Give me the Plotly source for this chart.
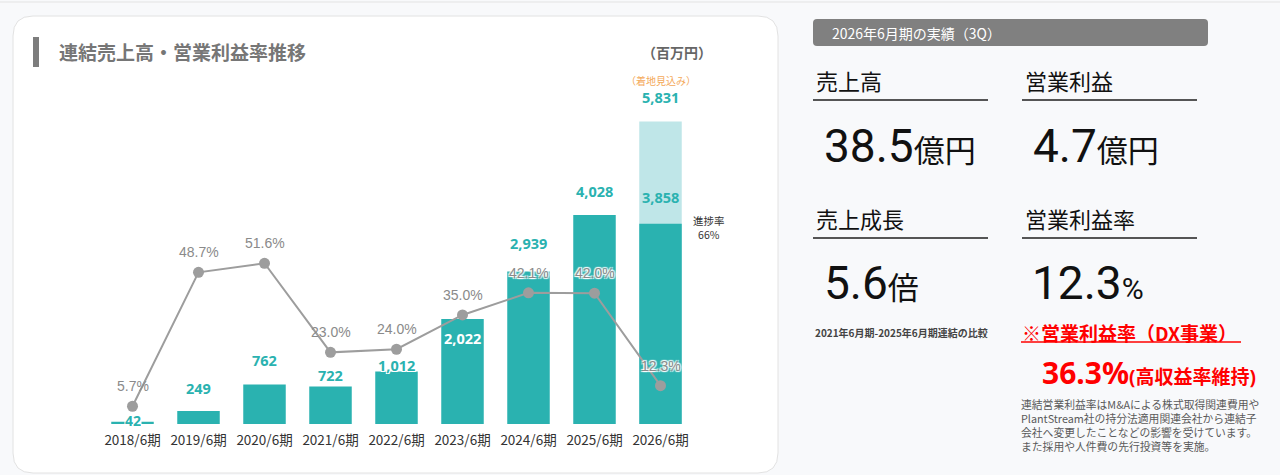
import plotly.graph_objects as go

W, H = 1280, 475

# ---------------- data ----------------
periods = ["2018/6期", "2019/6期", "2020/6期", "2021/6期", "2022/6期",
           "2023/6期", "2024/6期", "2025/6期", "2026/6期"]
sales = [42, 249, 762, 722, 1012, 2022, 2939, 4028, 3858]          # 百万円 (actual)
forecast_period = "2026/6期"
forecast_sales = 5831                                                # 着地見込み
op_margin = [5.7, 48.7, 51.6, 23.0, 24.0, 35.0, 42.1, 42.0, 12.3]    # %
progress_rate = 66

# ---------------- styles ----------------
TEAL = "#2ab2b0"
LIGHT = "#bfe6e8"
GRAY_LINE = "#9d9d9d"
JP = "Noto Sans CJK JP"

# label offsets (px, relative to bar top / point) - style only
sales_label_shift = [2, 23, 24, 12, 6, -19, 29, 24, 27]
sales_label_color = [TEAL] * 5 + ["white"] + [TEAL] * 3
pct_halo = [False] * 6 + [True, True, True]


def px(x):
    return x / W


def py(y):
    return 1 - y / H


def rrect(x0, y0, x1, y1, r):
    X0, X1 = px(x0), px(x1)
    Y0, Y1 = py(y0), py(y1)
    rx, ry = r / W, r / H
    return (f"M{X0+rx},{Y0} L{X1-rx},{Y0} Q{X1},{Y0} {X1},{Y0-ry} "
            f"L{X1},{Y1+ry} Q{X1},{Y1} {X1-rx},{Y1} L{X0+rx},{Y1} "
            f"Q{X0},{Y1} {X0},{Y1+ry} L{X0},{Y0-ry} Q{X0},{Y0} {X0+rx},{Y0} Z")


fig = go.Figure()

# forecast (light) bar behind
fig.add_trace(go.Bar(
    x=[forecast_period], y=[forecast_sales], marker=dict(color=LIGHT, line=dict(width=0)),
    hoverinfo="skip", showlegend=False))
# actual bars
fig.add_trace(go.Bar(
    x=periods, y=sales, marker=dict(color=TEAL, line=dict(width=0)),
    showlegend=False))
# operating margin line
fig.add_trace(go.Scatter(
    x=periods, y=op_margin, yaxis="y2", mode="lines+markers",
    line=dict(color=GRAY_LINE, width=2),
    marker=dict(color=GRAY_LINE, size=11), showlegend=False))

ann = []
# sales labels
for p, v, s, c in zip(periods, sales, sales_label_shift, sales_label_color):
    a = dict(x=p, y=v, xref="x", yref="y", text=f"{v:,}", showarrow=False,
             yshift=s, yanchor="middle",
             font=dict(family="Noto Sans", size=14.5, color=c, weight="bold"))
    if v < 100:
        a.update(bgcolor="white", borderpad=0, height=12)
        a["font"]["size"] = 14
    if p == "2022/6期":
        a["font"]["shadow"] = "1px 1px 0 white, -1px -1px 0 white, 1px -1px 0 white, -1px 1px 0 white"
    ann.append(a)
ann.append(dict(x=forecast_period, y=forecast_sales, xref="x", yref="y",
                text=f"{forecast_sales:,}", showarrow=False, yshift=24, yanchor="middle",
                font=dict(family="Noto Sans", size=14.5, color=TEAL, weight="bold")))
ann.append(dict(x=forecast_period, y=forecast_sales, xref="x", yref="y",
                text="（着地見込み）", showarrow=False, yshift=41, yanchor="middle",
                font=dict(family=JP, size=10, color="#f4a95a")))
# margin labels
for p, v, h in zip(periods, op_margin, pct_halo):
    f = dict(family="Liberation Sans", size=14, color="#8a8a8a")
    if h:
        f["shadow"] = "1px 1px 1px white, -1px -1px 1px white, 1px -1px 1px white, -1px 1px 1px white"
    ann.append(dict(x=p, y=v, xref="x", yref="y2", text=f"{v:.1f}%", showarrow=False,
                    yshift=20, yanchor="middle", font=f))
# progress rate
ann.append(dict(x=px(709), y=py(227), xref="paper", yref="paper",
                text=f"進捗率<br>{progress_rate}%", showarrow=False, align="center",
                xanchor="center", yanchor="middle",
                font=dict(family=JP, size=10.5, color="#333333")))

# titles in card
ann.append(dict(x=px(57), y=py(52), xref="paper", yref="paper", text="連結売上高・営業利益率推移",
                showarrow=False, xanchor="left", yanchor="middle",
                font=dict(family=JP, size=19, color="#767676", weight="bold")))
ann.append(dict(x=px(677), y=py(52), xref="paper", yref="paper", text="（百万円）",
                showarrow=False, xanchor="center", yanchor="middle",
                font=dict(family=JP, size=14, color="#666666", weight="bold")))

# ---------------- right panel ----------------
def T(x, y, text, size, color="#111111", weight="normal", anchor="left", family=JP, align="left"):
    ann.append(dict(x=px(x), y=py(y), xref="paper", yref="paper", text=text, showarrow=False,
                    xanchor=anchor, yanchor="middle", align=align,
                    font=dict(family=family, size=size, color=color, weight=weight)))

T(830, 33, "2026年6月期の実績（3Q）", 14, color="white")
T(814, 80, "売上高", 22)
T(1023, 80, "営業利益", 22)
T(814, 218, "売上成長", 22)
T(1023, 218, "営業利益率", 22)

NUM = "Roboto, " + JP
T(822, 146, "<span style='font-size:46px'>38.5</span><span style='font-size:31px'>億円</span>", 46, family=NUM)
T(1031, 146, "<span style='font-size:46px'>4.7</span><span style='font-size:31px'>億円</span>", 46, family=NUM)
T(822, 283, "<span style='font-size:46px'>5.6</span><span style='font-size:31px'>倍</span>", 46, family=NUM)
T(1030, 283, "<span style='font-size:46px'>12.3</span><span style='font-size:30px'>%</span>", 46, family=NUM)

T(813, 332, "2021年6月期-2025年6月期連結の比較", 10, color="#444444", weight="bold")
T(1020, 332, "※営業利益率（DX事業）", 19, color="#ff0000", weight="bold")
T(1040, 372, "<span style='font-size:30px'>36.3%</span><span style='font-size:19px'>(高収益率維持)</span>",
  30, color="#ff0000", weight="bold", family="Noto Sans, " + JP)

notes = ["連結営業利益率はM&Aによる株式取得関連費用や",
         "PlantStream社の持分法適用関連会社から連結子",
         "会社へ変更したことなどの影響を受けています。",
         "また採用や人件費の先行投資等を実施。"]
T(1019, 425, "<br>".join(l.replace("&", "&amp;") for l in notes), 10.8, color="#5a5a5a")

# ---------------- shapes ----------------
shapes = [
    # top thin line
    dict(type="line", xref="paper", yref="paper", x0=0, x1=1, y0=py(2), y1=py(2),
         line=dict(color="#e3e3e3", width=1), layer="below"),
    # card
    dict(type="path", xref="paper", yref="paper", path=rrect(13, 16, 778, 473, 20),
         fillcolor="white", line=dict(color="#e2e2e2", width=1), layer="below"),
    # title marker
    dict(type="rect", xref="paper", yref="paper", x0=px(33), x1=px(39), y0=py(37), y1=py(67),
         fillcolor="#7d7d7d", line=dict(width=0)),
    # header bar
    dict(type="path", xref="paper", yref="paper", path=rrect(813, 19, 1208, 46, 4),
         fillcolor="#808080", line=dict(width=0), layer="below"),
    # underlines
    dict(type="line", xref="paper", yref="paper", x0=px(813), x1=px(988), y0=py(100), y1=py(100),
         line=dict(color="#555555", width=2)),
    dict(type="line", xref="paper", yref="paper", x0=px(1022), x1=px(1197), y0=py(100), y1=py(100),
         line=dict(color="#555555", width=2)),
    dict(type="line", xref="paper", yref="paper", x0=px(813), x1=px(988), y0=py(238), y1=py(238),
         line=dict(color="#555555", width=2)),
    dict(type="line", xref="paper", yref="paper", x0=px(1022), x1=px(1197), y0=py(238), y1=py(238),
         line=dict(color="#555555", width=2)),
    dict(type="line", xref="paper", yref="paper", x0=px(1021), x1=px(1241), y0=py(342), y1=py(342),
         line=dict(color="#ff0000", width=1.5)),
]

PLOT_TOP, PLOT_BOT = 100, 424
BAR_PX = 209 / 4028
PCT_PX = 3.115

fig.update_layout(
    width=W, height=H,
    margin=dict(l=0, r=0, t=0, b=0),
    paper_bgcolor="#f8f9fb", plot_bgcolor="rgba(0,0,0,0)",
    barmode="overlay", bargap=0.356,
    xaxis=dict(domain=[px(99.5), px(693.5)], type="category", categoryorder="array",
               categoryarray=periods, range=[-0.5, 8.5], showgrid=False, zeroline=False,
               showline=False, ticks="", tickfont=dict(family=JP, size=13.5, color="#333333"),
               ticklabelstandoff=6),
    yaxis=dict(domain=[py(PLOT_BOT), py(PLOT_TOP)],
               range=[0, (PLOT_BOT - PLOT_TOP) / BAR_PX], visible=False),
    yaxis2=dict(domain=[py(PLOT_BOT), py(PLOT_TOP)], overlaying="y", anchor="x",
                range=[0, (PLOT_BOT - PLOT_TOP) / PCT_PX], visible=False),
    annotations=ann, shapes=shapes,
)

fig.write_html("out.html")
